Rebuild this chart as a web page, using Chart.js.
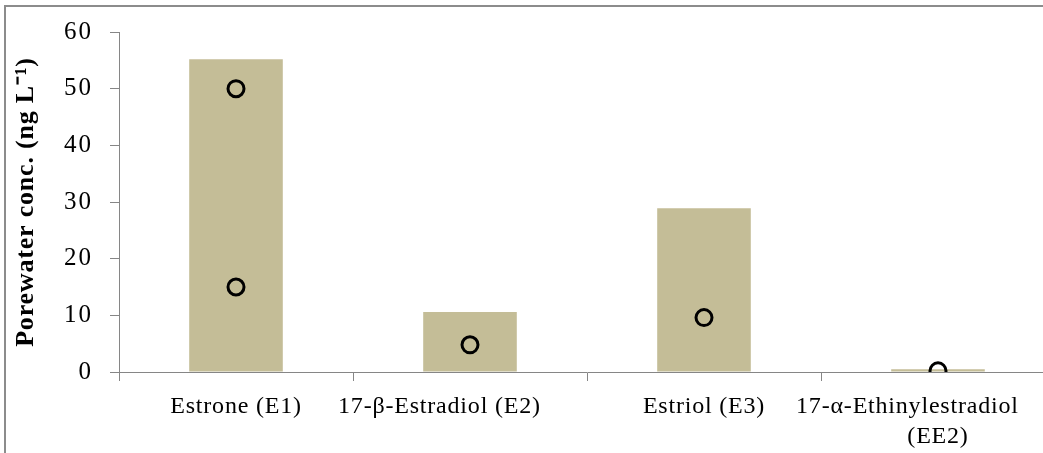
<!DOCTYPE html>
<html>
<head>
<meta charset="utf-8">
<script src="https://cdn.jsdelivr.net/npm/chart.js@4.4.1/dist/chart.umd.min.js"></script>
<style>
  html, body { margin: 0; padding: 0; background: #fff; overflow: hidden; width: 1043px; height: 453px; }
  #frame { position: absolute; left: 4px; top: 5px; width: 1200px; height: 600px;
           border-left: 2px solid #8c8c8c; border-top: 2px solid #8c8c8c; }
  #chart { position: absolute; left: 0; top: 0; }
</style>
</head>
<body>
<div id="frame"></div>
<canvas id="chart" width="1100" height="460"></canvas>
<script>
// Porewater concentrations of steroid estrogens (ng L-1)
const compounds = [
  'Estrone (E1)',
  '17-β-Estradiol (E2)         ',
  'Estriol (E3)',
  ['17-α-Ethinylestradiol         ', '(EE2)']
];
const barConc = [55.2, 10.6, 28.9, 0.5];
const sampleHigh = [50, 4.8, 9.6, 0.2];
const sampleLow = [15, null, null, null];
const yMin = 0, yMax = 60, yStep = 10;

const axisGray = '#868686';
const serif = "'Liberation Serif', 'Times New Roman', serif";

// wider glyph spacing for canvas text; the y tick numbers get a bit more
const letterSpacing = {
  id: 'letterSpacing',
  beforeUpdate(c) { c.ctx.letterSpacing = '0.8px'; },
  beforeLayout(c) { c.ctx.letterSpacing = '0.8px'; },
  afterLayout(c) {
    const y = c.scales.y;
    if (y && !y._spaced) {
      const draw = y.drawLabels.bind(y);
      y.drawLabels = (area) => {
        c.ctx.save();
        c.ctx.letterSpacing = '2px';
        draw(area);
        c.ctx.restore();
      };
      y._spaced = true;
    }
  },
  beforeDraw(c) { c.ctx.letterSpacing = '0.8px'; }
};

const pointStyle = {
  type: 'line',
  showLine: false,
  pointStyle: 'circle',
  pointRadius: 8,
  pointHoverRadius: 8,
  pointBorderWidth: 3,
  pointBorderColor: '#000',
  pointBackgroundColor: 'rgba(0,0,0,0)',
  borderColor: '#000',
  backgroundColor: 'rgba(0,0,0,0)',
  order: 1
};

new Chart(document.getElementById('chart'), {
  type: 'bar',
  data: {
    labels: compounds,
    datasets: [
      { label: 'Concentration', data: barConc, backgroundColor: '#c4bd97',
        borderWidth: 0, barPercentage: 0.4, categoryPercentage: 1.0, order: 2 },
      Object.assign({ label: 'Sample 1', data: sampleHigh }, pointStyle),
      Object.assign({ label: 'Sample 2', data: sampleLow }, pointStyle)
    ]
  },
  options: {
    responsive: false,
    animation: false,
    events: [],
    layout: { padding: { left: 8, top: 32, right: 45, bottom: 0 } },
    plugins: { legend: { display: false }, tooltip: { enabled: false } },
    scales: {
      x: {
        grid: { display: true, drawOnChartArea: false, offset: true, tickLength: 9,
                color: axisGray, lineWidth: 1 },
        border: { color: axisGray, width: 1 },
        ticks: { color: '#000', padding: 11, maxRotation: 0, autoSkip: false,
                 font: { family: serif, size: 24, lineHeight: 1.25 } },
        afterFit(s) { s.height = 88; }
      },
      y: {
        min: yMin, max: yMax,
        grid: { display: true, drawOnChartArea: false, tickLength: 9,
                color: axisGray, lineWidth: 1 },
        border: { color: axisGray, width: 1 },
        ticks: { stepSize: yStep, color: '#000', padding: 17,
                 font: { family: serif, size: 25 } },
        title: { display: true, text: 'Porewater conc. (ng L⁻¹)', color: '#000',
                 padding: { top: 3, bottom: 0 },
                 font: { family: serif, size: 26, weight: 'bold', lineHeight: 1.2 } },
        afterFit(s) { s.width = 111; }
      }
    }
  },
  plugins: [letterSpacing]
});
</script>
</body>
</html>
